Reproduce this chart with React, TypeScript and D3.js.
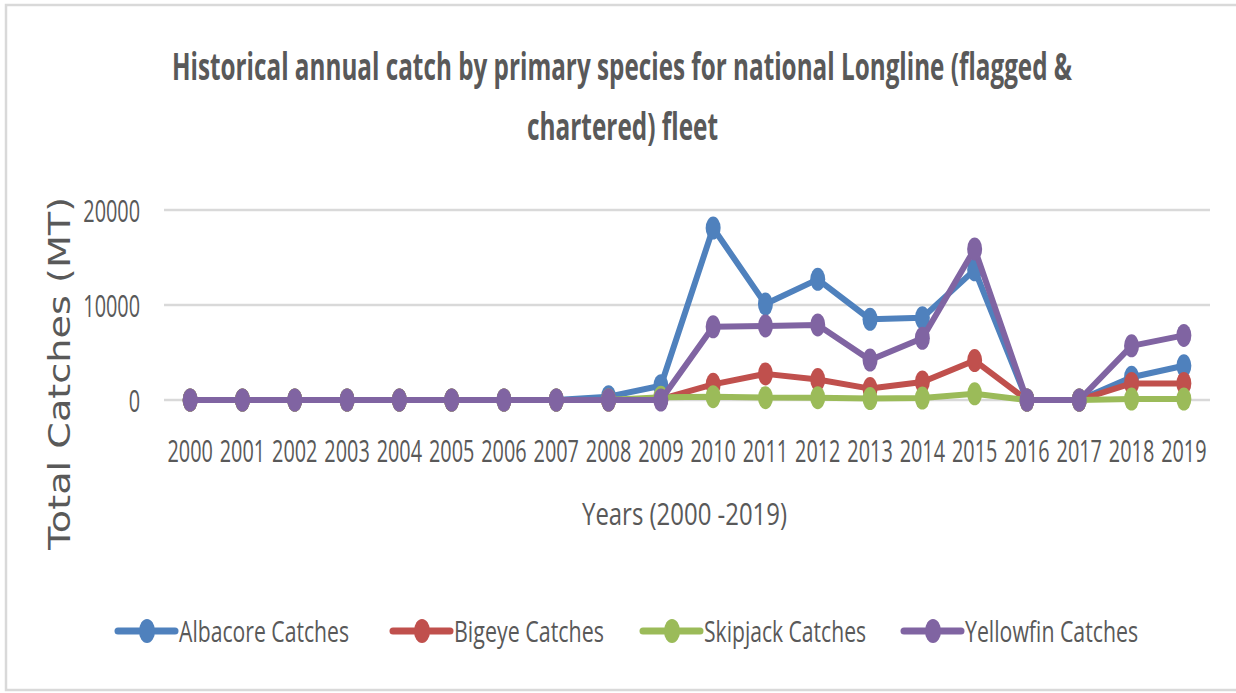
import React, { useLayoutEffect, useRef, useState } from "react";
import * as d3 from "d3";

const years = ["2000","2001","2002","2003","2004","2005","2006","2007","2008","2009","2010","2011","2012","2013","2014","2015","2016","2017","2018","2019"];
const albacore = [0,0,0,0,0,0,0,0,350,1500,18100,10100,12700,8500,8650,13700,0,0,2400,3600];
const bigeye = [0,0,0,0,0,0,0,0,0,100,1650,2750,2150,1200,1900,4150,0,0,1750,1750];
const skipjack = [0,0,0,0,0,0,0,0,0,300,350,250,250,150,200,650,0,0,100,100];
const yellowfin = [0,0,0,0,0,0,0,0,0,0,7700,7800,7900,4200,6500,15900,0,0,5700,6800];
const seriesNames = ["Albacore Catches","Bigeye Catches","Skipjack Catches","Yellowfin Catches"];
const seriesColors = ["#4F81BD","#C0504D","#9BBB59","#8064A2"];
const yTicks = [0, 10000, 20000];
const titleLines = ["Historical annual catch by primary species for national Longline (flagged &", "chartered) fleet"];
const xAxisTitle = "Years (2000 -2019)";
const yAxisTitle = "Total Catches (MT)";

const W = 1236, H = 693;
const TXT = "#595959";
const FONT = "'Open Sans', 'Noto Sans', sans-serif";

type FitProps = {
  x: number; y: number; width: number; rotate?: number;
  fontSize: number; fontWeight?: number; fontFamily?: string; children: string;
};

function FitText({ x, y, width, rotate = 0, fontSize, fontWeight = 400, fontFamily = FONT, children }: FitProps) {
  const ref = useRef<SVGTextElement>(null);
  const [s, setS] = useState(0.6);
  useLayoutEffect(() => {
    if (ref.current) {
      const len = ref.current.getComputedTextLength();
      if (len > 0) setS(width / len);
    }
  }, [width, children, fontSize]);
  return (
    <g transform={`translate(${x},${y}) rotate(${rotate}) scale(${s},1)`}>
      <text ref={ref} x={0} y={0} fontFamily={fontFamily} fontWeight={fontWeight} fontSize={fontSize} fill={TXT}>{children}</text>
    </g>
  );
}

export default function App() {
  const allSeries = [albacore, bigeye, skipjack, yellowfin];
  const x = d3.scalePoint<string>().domain(years).range([164, 1210]).padding(0.5);
  const y = d3.scaleLinear().domain([0, 20000]).range([400, 210]);
  const line = d3.line<number>().x((_, i) => x(years[i]) as number).y(d => y(d));

  const legendX = [118, 393, 643, 904];
  const legendTextLen = [170, 150, 162, 173];
  const sx = 0.64;

  return (
    <svg width={W} height={H} style={{ position: "absolute", left: 0, top: 0, display: "block", background: "#fff" }}>
      <rect x={0} y={0} width={W} height={H} fill="#fff" />
      <rect x={6} y={5} width={1240} height={685} fill="none" stroke="#d9d9d9" strokeWidth={2.5} />

      {/* Title */}
      <FitText x={172} y={80} width={900} fontSize={37} fontWeight={700}>{titleLines[0]}</FitText>
      <FitText x={527} y={140} width={191} fontSize={37} fontWeight={700}>{titleLines[1]}</FitText>

      {/* Gridlines */}
      {yTicks.map(t => (
        <line key={"g" + t} x1={164} x2={1210} y1={y(t)} y2={y(t)} stroke="#d9d9d9" strokeWidth={2.5} />
      ))}

      {/* Y tick labels */}
      {yTicks.map(t => (
        <text key={"yt" + t} transform={`translate(140,${y(t) + 12}) scale(${sx},1)`} textAnchor="end" fontFamily={FONT} fontSize={31} fill={TXT}>{String(t)}</text>
      ))}

      {/* X tick labels */}
      {years.map(yr => (
        <text key={"xt" + yr} transform={`translate(${x(yr)},462) scale(${sx},1)`} textAnchor="middle" fontFamily={FONT} fontSize={31} fill={TXT}>{yr}</text>
      ))}

      {/* Axis titles */}
      <FitText x={582} y={525} width={205} fontSize={31}>{xAxisTitle}</FitText>
      <FitText x={70} y={550} width={353} rotate={-90} fontSize={30} fontFamily="'DejaVu Sans', sans-serif">{yAxisTitle}</FitText>

      {/* Series */}
      {allSeries.map((s, si) => (
        <g key={"s" + si}>
          <path d={line(s) || ""} fill="none" stroke={seriesColors[si]} strokeWidth={6} strokeLinejoin="round" strokeLinecap="round" />
          {s.map((v, i) => (
            <ellipse key={i} cx={x(years[i]) as number} cy={y(v)} rx={7.5} ry={11.5} fill={seriesColors[si]} />
          ))}
        </g>
      ))}

      {/* Legend */}
      {seriesNames.map((n, i) => (
        <g key={"l" + i}>
          <line x1={legendX[i]} x2={legendX[i] + 57} y1={631} y2={631} stroke={seriesColors[i]} strokeWidth={7} strokeLinecap="round" />
          <ellipse cx={legendX[i] + 29} cy={631} rx={8} ry={12} fill={seriesColors[i]} />
          <FitText x={legendX[i] + 61} y={642} width={legendTextLen[i]} fontSize={30}>{n}</FitText>
        </g>
      ))}
    </svg>
  );
}
